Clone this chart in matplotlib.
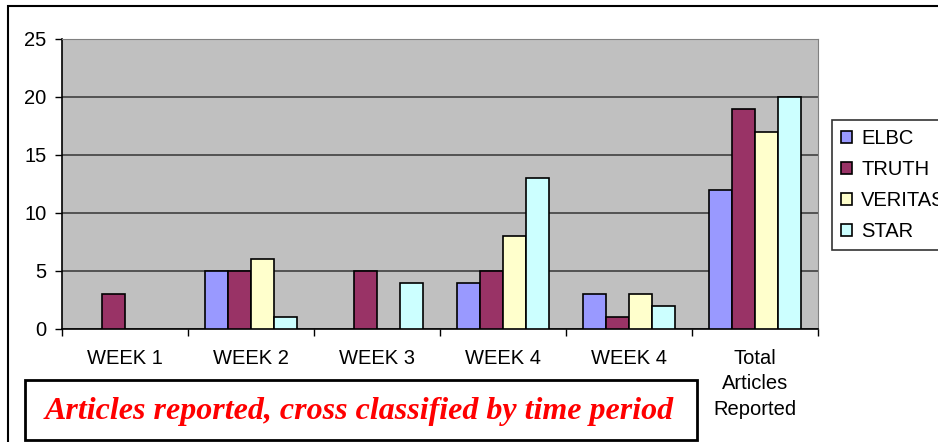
import numpy as np
import matplotlib
matplotlib.use("Agg")
import matplotlib.pyplot as plt
from matplotlib.patches import Rectangle

categories = ["WEEK 1", "WEEK 2", "WEEK 3", "WEEK 4", "WEEK 4", "Total\nArticles\nReported"]
series_names = ["ELBC", "TRUTH", "VERITAS", "STAR"]
elbc = [0, 5, 0, 4, 3, 12]
truth = [3, 5, 5, 5, 1, 19]
veritas = [0, 6, 0, 8, 3, 17]
star = [0, 1, 4, 13, 2, 20]
y_ticks = [0, 5, 10, 15, 20, 25]
title = "Articles reported, cross classified by time period"

colors = ["#9999FF", "#993366", "#FFFFCC", "#CCFFFF"]

plt.rcParams['font.family'] = ['Liberation Sans', 'DejaVu Sans']

W, H = 938, 442
fig = plt.figure(figsize=(W / 100, H / 100), dpi=100)
fig.patch.set_facecolor("white")

# outer chart frame (extends past right/bottom edge)
fig.patches.append(Rectangle((8 / W, -0.1), 1.2, 1 - 6 / H + 0.1, transform=fig.transFigure,
                             fill=False, edgecolor="black", linewidth=1.5, clip_on=False))

ax = fig.add_axes([62 / W, 1 - 329 / H, (818 - 62) / W, (329 - 39) / H])
ax.set_facecolor("#C0C0C0")

x = np.arange(len(categories))
width = 0.182
data = [elbc, truth, veritas, star]
for i, (name, vals, c) in enumerate(zip(series_names, data, colors)):
    v = np.array(vals, dtype=float)
    v[v == 0] = np.nan
    ax.bar(x + (i - 1.5) * width, v, width, color=c, edgecolor="black", linewidth=1.2,
           label=name, zorder=3)

fs = 14.5
ax.set_xlim(-0.5, len(categories) - 0.5)
ax.set_ylim(0, 25)
ax.set_yticks(y_ticks)
ax.set_yticklabels([str(t) for t in y_ticks], fontsize=fs)
ax.yaxis.grid(True, color="#404040", linewidth=1.2, zorder=1)
ax.set_axisbelow(True)

ax.set_xticks(x)
ax.set_xticklabels(categories, fontsize=fs, linespacing=1.42)
ax.tick_params(axis="x", length=0, pad=14.5)
ax.set_xticks(np.arange(-0.5, len(categories), 1.0), minor=True)
ax.tick_params(axis="x", which="minor", length=5, width=1, direction="out")
ax.tick_params(axis="y", length=5, width=1, direction="out", pad=6)

ax.spines["left"].set_color("black")
ax.spines["bottom"].set_color("black")
ax.spines["left"].set_linewidth(1.2)
ax.spines["bottom"].set_linewidth(1.2)
ax.spines["top"].set_color("#808080")
ax.spines["right"].set_color("#808080")

handles, labels = ax.get_legend_handles_labels()
leg = fig.legend(handles, labels, loc="upper left", bbox_to_anchor=(832 / W, 1 - 120 / H),
                 fontsize=fs, frameon=True, fancybox=False, edgecolor="black",
                 handlelength=0.55, handleheight=0.55, handletextpad=0.45,
                 labelspacing=0.6, borderpad=0.45, borderaxespad=0)
leg.get_frame().set_linewidth(1.2)

# title box
fig.patches.append(Rectangle((25 / W, 1 - 440 / H), (697 - 25) / W, (440 - 380) / H,
                             transform=fig.transFigure, fill=True, facecolor="white",
                             edgecolor="black", linewidth=2))
fig.text(359 / W, 1 - 411 / H, title, ha="center", va="center", color="red",
         fontsize=23, fontweight="bold", fontstyle="italic",
         family=["Liberation Serif", "DejaVu Serif"])

fig.savefig("out.png", dpi=100)
